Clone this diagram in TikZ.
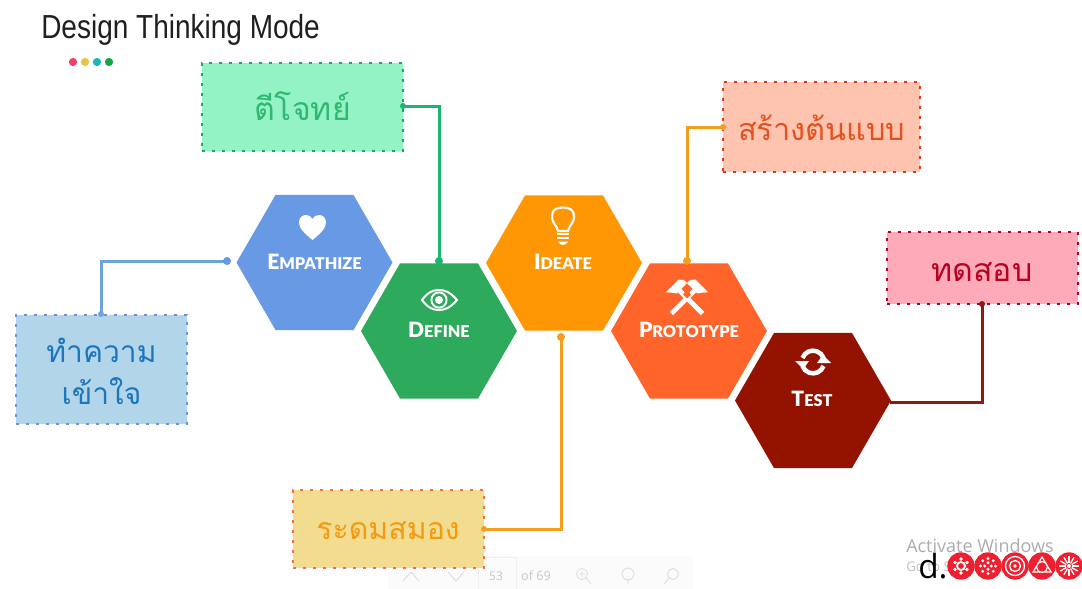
\documentclass[tikz,border=0pt]{standalone}
\usepackage{fontspec}
\setmainfont{Lato}
\newfontfamily\thaifont[Script=Thai]{Loma}
\newfontfamily\titlefont[FakeStretch=0.84]{Liberation Sans}
\newfontfamily\hexfont{Lato Black}
\newfontfamily\uifont{Open Sans}
\usetikzlibrary{shapes.geometric}
\definecolor{cEmp}{HTML}{6799E4}
\definecolor{cDef}{HTML}{2EAA5C}
\definecolor{cIde}{HTML}{FF9705}
\definecolor{cPro}{HTML}{FF642B}
\definecolor{cTes}{HTML}{941200}
\definecolor{lBlue}{HTML}{6CA3DB}
\definecolor{lGreen}{HTML}{1DB671}
\definecolor{lOrange}{HTML}{F49E1C}
\definecolor{lRed}{HTML}{8E1A10}
\newcommand{\hexlab}[2]{{\fontsize{15.8}{18}\hexfont #1{\fontsize{12.2}{14}\selectfont #2}}}
\tikzset{
  x=0.75pt,y=-0.75pt,
  hexa/.style={regular polygon,regular polygon sides=6,minimum size=117pt,inner sep=0pt,outer sep=0pt,fill=#1},
  hexlabel/.style={text=white,inner sep=0pt},
  note/.style={draw=none,inner sep=0pt,align=center},
  conn/.style={line width=2.25pt,line cap=butt,line join=miter},
  dotmark/.style={circle,fill=#1,inner sep=0pt,minimum size=6pt},
  icon/.style={fill=white,draw=none},
  iconline/.style={draw=white,fill=none},
  wheel/.style={circle,fill=rWheel,inner sep=0pt,minimum size=20.5pt},
  wl/.style={white,line width=0.7pt},
}
\newcommand{\thai}[1]{\thaifont\fontsize{#1}{31.5}\selectfont}
\definecolor{rWheel}{HTML}{EE2030}
\begin{document}
\begin{tikzpicture}
\useasboundingbox (0,0) rectangle (1082,589);
\fill[white] (0,0) rectangle (1082,589);

% title and dots
\node[anchor=west,inner sep=0pt,text=black!88,font=\titlefont\fontsize{25}{28}\selectfont] (title) at (41,29.5) {Design Thinking Mode};
\foreach \n/\x/\c in {a/73/F43F6B,b/85/E4C544,c/97/1BB6B8,d/109/16A34A}{
  \definecolor{tmpc}{HTML}{\c}
  \node[circle,fill=tmpc,inner sep=0pt,minimum size=6.2pt] (dot\n) at (\x,62) {};
}

% toolbar ghost
\fill[black!1.5] (388,556) rectangle (693,589);
\draw[black!6,line width=0.5pt] (478,589) -- (478,557) -- (516,557) -- (516,589);
\node[text=black!22,font=\uifont\fontsize{9}{9}\selectfont,inner sep=0pt] (pgnum) at (496,576) {53};
\node[text=black!22,font=\uifont\fontsize{9.5}{9}\selectfont,inner sep=0pt] (pgof) at (536,575.5) {of 69};
\draw[black!14,line width=0.6pt] (403,581) -- (411,572) -- (419,581) (448,572) -- (456,581) -- (464,572);
\draw[black!14,line width=0.6pt] (582,574) circle (5.5) (586,578) -- (591,584) (579,574) -- (585,574) (582,571) -- (582,577);
\draw[black!14,line width=0.6pt] (628,574) circle (6) (628,580) -- (628,584);
\draw[black!14,line width=0.6pt] (673,574) circle (5.5) (669,578) -- (664,584);

% hexagons
\node[hexa=cEmp] (emp) at (314.5,262.5) {};
\node[hexa=cIde] (ide) at (564,263) {};
\node[hexa=cDef] (def) at (439,331) {};
\node[hexa=cPro] (pro) at (689,331) {};
\node[hexa=cTes] (tes) at (813,400.5) {};

% hexagon labels
\node[hexlabel] (empt) at (314.5,262) {\hexlab{E}{MPATHIZE}};
\node[hexlabel] (deft) at (439,330) {\hexlab{D}{EFINE}};
\node[hexlabel] (idet) at (563,262) {\hexlab{I}{DEATE}};
\node[hexlabel] (prot) at (689,330) {\hexlab{P}{ROTOTYPE}};
\node[hexlabel] (test) at (812,399) {\hexlab{T}{EST}};

% heart
\fill[icon] (312.5,240) .. controls (304,233) and (299,228) .. (299,222.5)
  .. controls (299,217) and (303,215) .. (306,215)
  .. controls (309,215) and (311.5,216.5) .. (312.5,219)
  .. controls (313.5,216.5) and (316,215) .. (319,215)
  .. controls (322,215) and (326,217) .. (326,222.5)
  .. controls (326,228) and (321,233) .. (312.5,240) -- cycle;

% eye
\draw[iconline,line width=1.5pt] (422,300) .. controls (428,292) and (433,290) .. (439,290)
  .. controls (445,290) and (450,292) .. (457,300)
  .. controls (450,308) and (445,310) .. (439,310)
  .. controls (433,310) and (428,308) .. (422,300) -- cycle;
\draw[iconline,line width=1.4pt] (439,300) circle (7.6);
\fill[icon] (439,300) circle (4);

% bulb
\draw[iconline,line width=1.6pt] (558,231) .. controls (557,225) and (552,224) .. (552,216)
  .. controls (552,209.5) and (557,207.5) .. (563,207.5)
  .. controls (569,207.5) and (574,209.5) .. (574,216)
  .. controls (574,224) and (569,225) .. (568,231) -- cycle;
\foreach \yy/\hw in {234/6,238/6}{\fill[icon] (563-\hw,\yy-0.9) rectangle (563+\hw,\yy+0.9);}
\fill[icon] (557.5,241.5) -- (568.5,241.5) -- (565,244.5) -- (561,244.5) -- cycle;

% hammers
\begin{scope}[shift={(687,298)}]
  \foreach \s in {1,-1}{
    \begin{scope}[xscale=\s,rotate=45]
      \fill[icon] (-2.4,-14) rectangle (2.4,22);
    \end{scope}
  }
  \fill[cPro] (-1.8,-6.5) -- (1.8,-6.5) -- (3.8,-3.5) -- (0,0.5) -- (-3.8,-3.5) -- cycle;
  \foreach \s in {1,-1}{
    \begin{scope}[xscale=\s,rotate=45]
      \fill[icon] (-11,-19) -- (7,-19) -- (10.5,-15) -- (10.5,-10.5) -- (-4,-10.5) -- (-7,-14.5) -- cycle;
    \end{scope}
  }
\end{scope}

% refresh
\begin{scope}[shift={(813,362)}]
  \draw[white,line width=3.4pt] (-10.5,-4) arc (200:340:11.2);
  \draw[white,line width=3.4pt] (10.5,4) arc (20:160:11.2);
  \fill[icon] (-18,-1) -- (-4,-1) -- (-9,6) -- (-11,6) -- cycle;
  \fill[icon] (18,1) -- (4,1) -- (9,-6) -- (11,-6) -- cycle;
\end{scope}

% note boxes
\definecolor{fGreen}{HTML}{93F3C5}\definecolor{bGreen}{HTML}{1EA56D}\definecolor{tGreen}{HTML}{2FB872}
\definecolor{fBlue}{HTML}{B2D5EA}\definecolor{bBlue}{HTML}{6C93D8}\definecolor{tBlue}{HTML}{1B76BC}
\definecolor{fOrange}{HTML}{F2DC8F}\definecolor{bOrange}{HTML}{F0713C}\definecolor{tOrange}{HTML}{F49A10}
\definecolor{fSalmon}{HTML}{FFC4B0}\definecolor{bSalmon}{HTML}{D93A20}\definecolor{tSalmon}{HTML}{E2511E}
\definecolor{fPink}{HTML}{FFAAB8}\definecolor{bPink}{HTML}{B0002A}\definecolor{tPink}{HTML}{B8001F}
\tikzset{nbox/.style n args={2}{rectangle,inner sep=0pt,outer sep=0pt,fill=#1,draw=#2,line width=2.1pt,dash pattern=on 2.1pt off 5.4pt,line cap=butt}}

\node[nbox={fGreen}{bGreen},minimum width=150.75pt,minimum height=66pt] (bxdef) at (302.5,107) {};
\node[nbox={fBlue}{bBlue},minimum width=128.25pt,minimum height=81.75pt] (bxemp) at (101.5,369.5) {};
\node[nbox={fOrange}{bOrange},minimum width=143.25pt,minimum height=58.5pt] (bxide) at (388.5,529) {};
\node[nbox={fSalmon}{bSalmon},minimum width=147.75pt,minimum height=67.5pt] (bxpro) at (821.5,127) {};
\node[nbox={fPink}{bPink},minimum width=143.25pt,minimum height=54pt] (bxtes) at (982.5,268) {};

\node[note,text=tGreen,font=\thai{24}] (txdef) at (302.5,106) {ตีโจทย์};
\node[note,text=tBlue,font=\thai{22.5}] (txemp) at (101.5,371) {ทำความ\\เข้าใจ};
\node[note,text=tOrange,font=\thai{22.7}] (txide) at (388,531) {ระดมสมอง};
\node[note,text=tSalmon,font=\thai{23}] (txpro) at (821.5,128) {สร้างต้นแบบ};
\node[note,text=tPink,font=\thai{24}] (txtes) at (982,272) {ทดสอบ};

% connector ends
\coordinate (eEmp) at (227,261);
\coordinate (eDef) at (439,261);
\coordinate (eIde) at (561,337);
\coordinate (ePro) at (687,261);
\coordinate (sEmp) at (101,314);
\coordinate (sDef) at (403,106);
\coordinate (sIde) at (484,529);
\coordinate (sPro) at (723,127);
\coordinate (sTes) at (982,304);
\coordinate (eTes) at (890,402);

\draw[conn,lBlue] (eEmp) -| (sEmp);
\draw[conn,lGreen] (sDef) -| (eDef);
\draw[conn,lOrange] (eIde) |- (sIde);
\draw[conn,lOrange] (ePro) |- (sPro);
\draw[conn,lRed] (eTes) -| (sTes);

\node[dotmark=cEmp] at (eEmp) {};
\node[dotmark=lGreen] at (eDef) {};
\node[dotmark=lOrange] at (eIde) {};
\node[dotmark=lOrange] at (ePro) {};
\node[dotmark=lBlue,minimum size=4.5pt] at (sEmp) {};
\node[dotmark=lGreen,minimum size=4.5pt] at (sDef) {};
\node[dotmark=lOrange,minimum size=4.5pt] at (sIde) {};
\node[dotmark=lOrange,minimum size=4.5pt] at (sPro) {};
\node[dotmark=lRed,minimum size=4.5pt] at (sTes) {};

% watermark
\node[anchor=west,inner sep=0pt,text=black!32,font=\uifont\fontsize{13.5}{14}\selectfont] (actw) at (906,546) {Activate Windows};
\node[anchor=west,inner sep=0pt,text=black!25,font=\uifont\fontsize{10}{11}\selectfont] (gosett) at (906,568) {Go to Settings to activate};
\node[anchor=base west,inner sep=0pt,text=black,font=\uifont\fontsize{25}{28}\selectfont] (dlogo) at (918,578) {d.};
\foreach \n/\x in {1/961,2/988,3/1015,4/1042,5/1069}{
  \node[wheel] (w\n) at (\x,566) {};
}
% wheel 1: gear
\draw[wl,line width=1.4pt] (961,566) circle (4);
\foreach \a in {30,90,...,330}{\fill[white] (961,566) ++(\a:7) circle (1.9);}
\fill[rWheel] (961,566) circle (2.4);
% wheel 2: dots
\foreach \a in {0,45,...,315}{\fill[white] (988,566) ++(\a:7.5) circle (1.6);}
\foreach \a in {0,90,180,270}{\fill[white] (988,566) ++(\a:3.2) circle (1.6);}
% wheel 3: rings
\draw[wl,line width=1pt] (1015,566) circle (9.5) (1015,566) circle (5.5);
\fill[white] (1015,566) circle (1.8);
% wheel 4: triangle knot
\draw[wl,line width=0.9pt] (1042,557) -- (1051,572) -- (1033,572) -- cycle (1042,567) circle (5.5);
% wheel 5: burst
\foreach \a in {0,30,...,330}{\draw[wl,line width=1pt] (1069,566) ++(\a:3) -- ++(\a:7);}
\fill[white] (1069,566) circle (2);
\end{tikzpicture}
\end{document}
